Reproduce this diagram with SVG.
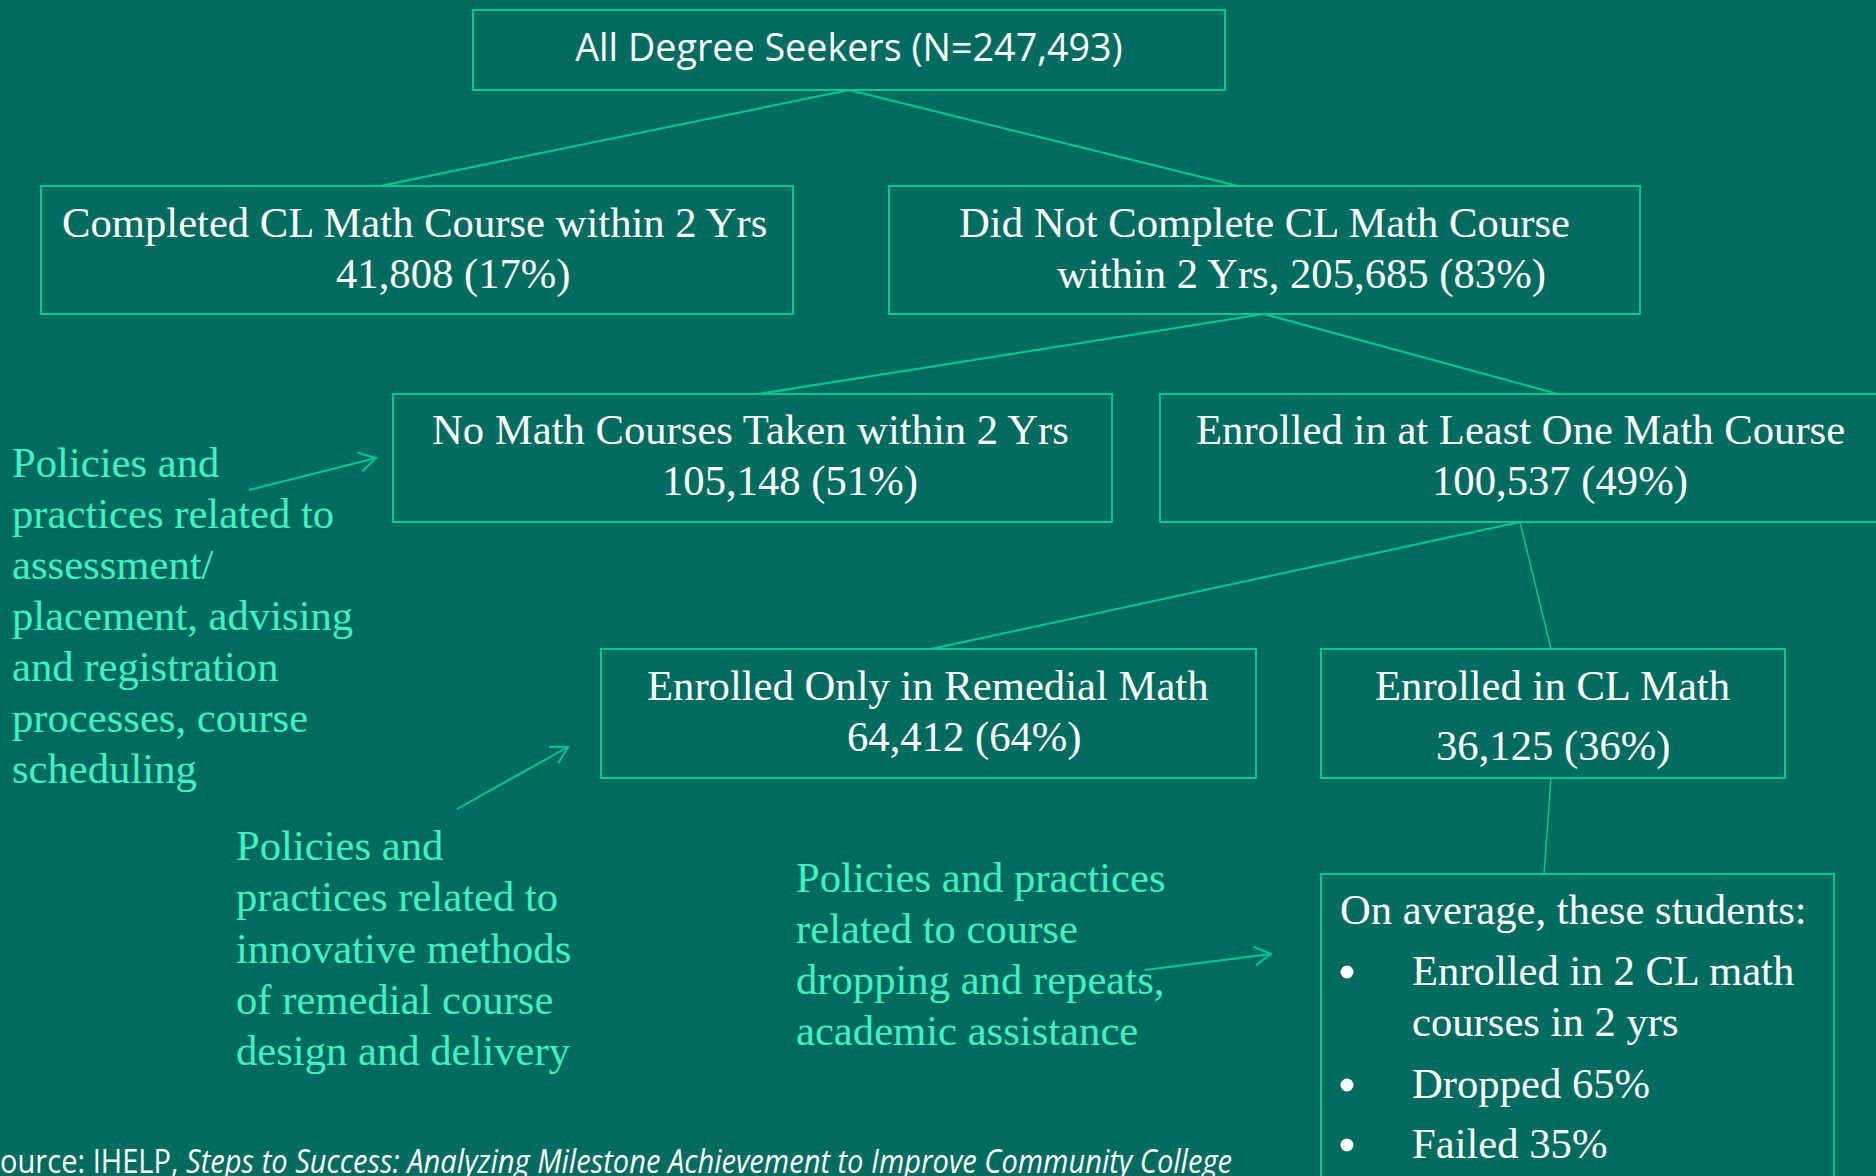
<svg xmlns="http://www.w3.org/2000/svg" width="1876" height="1176" viewBox="0 0 1876 1176">
<defs>
<style>
.box{fill:none;stroke:#00C894;stroke-width:2}
.con{stroke:#00C894;stroke-width:2;fill:none}
.thin{stroke:#00C894;stroke-width:1.5;fill:none}
.arr{stroke:#00C894;stroke-width:2;fill:none;marker-end:url(#ah)}
.w{font-family:"Liberation Serif","Times New Roman",serif;font-size:42.67px;fill:#FFFFFF}
.g{font-family:"Liberation Serif","Times New Roman",serif;font-size:42.67px;fill:#3FF2C3}
.s{font-family:"Open Sans","Liberation Sans",sans-serif;fill:#FFFFFF}
</style>
<marker id="ah" markerUnits="userSpaceOnUse" markerWidth="40" markerHeight="40" viewBox="-20 -20 40 40" refX="0" refY="0" orient="auto">
<path d="M -16.5 -9.5 L 0 0 L -16.5 9.5" fill="none" stroke="#00C894" stroke-width="2"/>
</marker>
</defs>
<rect width="1876" height="1176" fill="#006C5F"/>

<g id="connectors">
<line class="con" x1="849" y1="90" x2="380" y2="186"/>
<line class="con" x1="849" y1="90" x2="1238" y2="186"/>
<line class="con" x1="1264" y1="314" x2="758" y2="394"/>
<line class="con" x1="1264" y1="314" x2="1558" y2="394"/>
<line class="con" x1="1520" y1="522" x2="931" y2="649"/>
<line class="thin" x1="1520" y1="522" x2="1551" y2="649"/>
<line class="thin" x1="1551" y1="778" x2="1544" y2="874"/>
<line class="arr" x1="249" y1="490" x2="376" y2="458"/>
<line class="arr" x1="457" y1="809" x2="568" y2="747"/>
<line class="arr" x1="1145" y1="970" x2="1271" y2="954"/>
</g>

<g id="all">
<rect class="box" x="473" y="10" width="752" height="80"/>
<text class="s" x="849" y="60.5" font-size="37.7" text-anchor="middle">All Degree Seekers (N=247,493)</text>
</g>

<g id="completed">
<rect class="box" x="41" y="186" width="752" height="128"/>
<text class="w" x="62" y="236.5">Completed CL Math Course within 2 Yrs</text>
<text class="w" x="336" y="288">41,808 (17%)</text>
</g>

<g id="notcompleted">
<rect class="box" x="889" y="186" width="751" height="128"/>
<text class="w" x="959" y="236.5">Did Not Complete CL Math Course</text>
<text class="w" x="1057" y="288">within 2 Yrs, 205,685 (83%)</text>
</g>

<g id="nomath">
<rect class="box" x="393" y="394" width="719" height="128"/>
<text class="w" x="432" y="444">No Math Courses Taken within 2 Yrs</text>
<text class="w" x="662" y="495">105,148 (51%)</text>
</g>

<g id="atleastone">
<rect class="box" x="1160" y="394" width="730" height="128"/>
<text class="w" x="1196" y="444">Enrolled in at Least One Math Course</text>
<text class="w" x="1432" y="495">100,537 (49%)</text>
</g>

<g id="remedial">
<rect class="box" x="601" y="649" width="655" height="129"/>
<text class="w" x="647" y="700">Enrolled Only in Remedial Math</text>
<text class="w" x="847" y="751">64,412 (64%)</text>
</g>

<g id="clmath">
<rect class="box" x="1321" y="649" width="464" height="129"/>
<text class="w" x="1375" y="700">Enrolled in CL Math</text>
<text class="w" x="1436" y="760">36,125 (36%)</text>
</g>

<g id="average">
<rect class="box" x="1321" y="874" width="513" height="330"/>
<text class="w" x="1340" y="924">On average, these students:</text>
<circle cx="1347" cy="972" r="6.5" fill="#FFFFFF"/>
<text class="w" x="1412" y="985">Enrolled in 2 CL math</text>
<text class="w" x="1412" y="1036">courses in 2 yrs</text>
<circle cx="1347" cy="1085" r="6.5" fill="#FFFFFF"/>
<text class="w" x="1412" y="1098">Dropped 65%</text>
<circle cx="1347" cy="1145" r="6.5" fill="#FFFFFF"/>
<text class="w" x="1412" y="1158">Failed 35%</text>
</g>

<g id="policy1">
<text class="g" x="12" y="476.5">Policies and</text>
<text class="g" x="12" y="527.5">practices related to</text>
<text class="g" x="12" y="578.5">assessment/</text>
<text class="g" x="12" y="629.5">placement, advising</text>
<text class="g" x="12" y="680.5">and registration</text>
<text class="g" x="12" y="731.5">processes, course</text>
<text class="g" x="12" y="782.5">scheduling</text>
</g>

<g id="policy2">
<text class="g" x="236" y="860">Policies and</text>
<text class="g" x="236" y="911">practices related to</text>
<text class="g" x="236" y="962.5">innovative methods</text>
<text class="g" x="236" y="1013.5">of remedial course</text>
<text class="g" x="236" y="1064.5">design and delivery</text>
</g>

<g id="policy3">
<text class="g" x="796" y="891.5">Policies and practices</text>
<text class="g" x="796" y="942.5">related to course</text>
<text class="g" x="796" y="993.5">dropping and repeats,</text>
<text class="g" x="796" y="1044.5">academic assistance</text>
</g>

<g id="source">
<text class="s" x="0" y="1173" font-size="32" textLength="1232" lengthAdjust="spacingAndGlyphs">ource: IHELP, <tspan font-style="italic">Steps to Success: Analyzing Milestone Achievement to Improve Community College</tspan></text>
</g>
</svg>
